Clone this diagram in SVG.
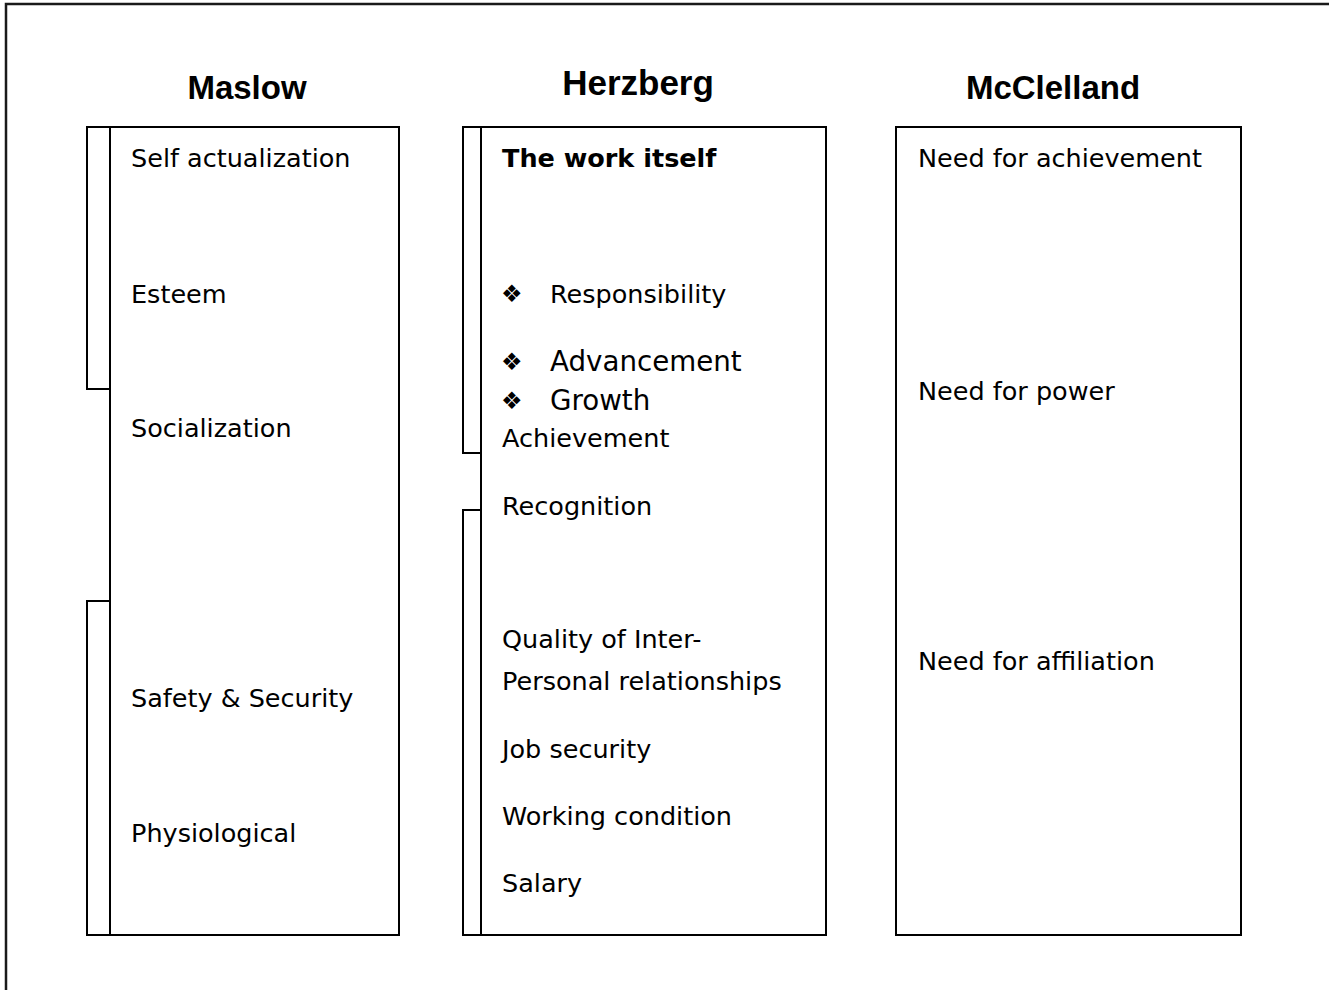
<svg xmlns="http://www.w3.org/2000/svg" width="1329" height="990" viewBox="0 0 1329 990">
  <style>
    .frame { fill: none; stroke: #1a1a1a; stroke-width: 2.5; }
    .box { fill: none; stroke: #000; stroke-width: 2; }
    .head { font-family: "Liberation Sans", Arial, sans-serif; font-weight: bold; font-size: 33px; fill: #000; }
    .item { font-family: "DejaVu Sans", Verdana, sans-serif; font-size: 25.5px; fill: #000; }
    .big { font-family: "DejaVu Sans", Verdana, sans-serif; font-size: 27.7px; fill: #000; }
    .strong { font-weight: bold; }
    .bullet { font-family: "DejaVu Sans", sans-serif; font-size: 24px; fill: #000; }
  </style>

  <rect width="1329" height="990" fill="#fff"/>
  <!-- page frame: top and left rules only -->
  <polyline class="frame" points="6,990 6,4 1329,4"/>

  <!-- Maslow column -->
  <g id="maslow">
    <text class="head" x="247" y="99" text-anchor="middle">Maslow</text>
    <rect class="box" x="110" y="127" width="289" height="808"/>
    <rect class="box" x="87" y="127" width="23" height="262"/>
    <rect class="box" x="87" y="601" width="23" height="334"/>
    <text class="item" x="131" y="167">Self actualization</text>
    <text class="item" x="131" y="303">Esteem</text>
    <text class="item" x="131" y="437">Socialization</text>
    <text class="item" x="131" y="707">Safety &amp; Security</text>
    <text class="item" x="131" y="842">Physiological</text>
  </g>

  <!-- Herzberg column -->
  <g id="herzberg">
    <text class="head" x="638" y="95" text-anchor="middle" style="font-size:35px">Herzberg</text>
    <rect class="box" x="481" y="127" width="345" height="808"/>
    <rect class="box" x="463" y="127" width="18" height="326"/>
    <rect class="box" x="463" y="510" width="18" height="425"/>
    <text class="item strong" x="502" y="167">The work itself</text>
    <text class="bullet" x="501" y="302">❖</text>
    <text class="item" x="550" y="303">Responsibility</text>
    <text class="bullet" x="501" y="370">❖</text>
    <text class="big" x="550" y="371">Advancement</text>
    <text class="bullet" x="501" y="409">❖</text>
    <text class="big" x="550" y="410">Growth</text>
    <text class="item" x="502" y="447">Achievement</text>
    <text class="item" x="502" y="515">Recognition</text>
    <text class="item" x="502" y="648">Quality of Inter-</text>
    <text class="item" x="502" y="690">Personal relationships</text>
    <text class="item" x="502" y="758">Job security</text>
    <text class="item" x="502" y="825">Working condition</text>
    <text class="item" x="502" y="892">Salary</text>
  </g>

  <!-- McClelland column -->
  <g id="mcclelland">
    <text class="head" x="1053" y="99" text-anchor="middle">McClelland</text>
    <rect class="box" x="896" y="127" width="345" height="808"/>
    <text class="item" x="918" y="167">Need for achievement</text>
    <text class="item" x="918" y="400">Need for power</text>
    <text class="item" x="918" y="670">Need for affiliation</text>
  </g>

  <!-- no connectors in this figure -->
  <g id="connectors"/>
</svg>
